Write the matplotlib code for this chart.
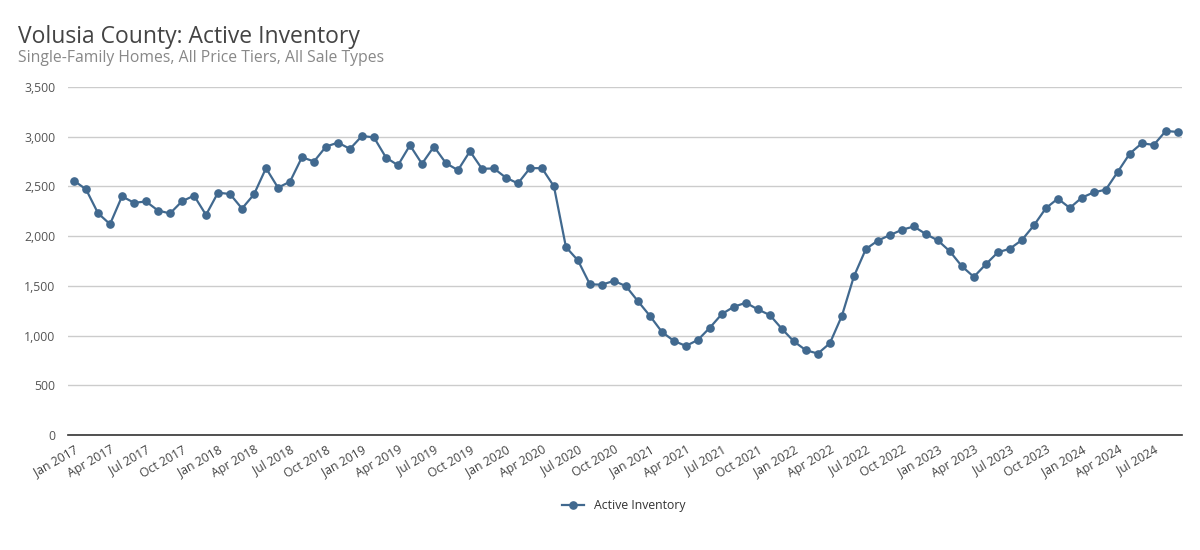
import numpy as np
import pandas as pd
from matplotlib import pyplot as plt

plt.rcParams['font.family'] = ['Open Sans', 'DejaVu Sans']

# monthly active inventory, Jan 2017 - Sep 2024
months = pd.date_range('2017-01-01', '2024-09-01', freq='MS')
inventory = [
    2557, 2470, 2230, 2120, 2400, 2335, 2348, 2257, 2228, 2350, 2407, 2213,  # 2017
    2437, 2423, 2277, 2420, 2683, 2487, 2547, 2793, 2750, 2900, 2940, 2877,  # 2018
    3007, 2992, 2790, 2712, 2913, 2727, 2900, 2733, 2663, 2853, 2677, 2680,  # 2019
    2587, 2530, 2683, 2683, 2500, 1890, 1756, 1515, 1512, 1550, 1497, 1346,  # 2020
    1198, 1037, 946, 896, 956, 1080, 1217, 1290, 1330, 1263, 1206, 1068,     # 2021
    941, 853, 819, 923, 1198, 1594, 1870, 1955, 2010, 2063, 2097, 2020,      # 2022
    1957, 1847, 1697, 1590, 1717, 1837, 1873, 1960, 2107, 2280, 2377, 2283,  # 2023
    2387, 2440, 2467, 2647, 2830, 2933, 2917, 3057, 3047,                    # 2024
]
series_name = 'Active Inventory'
title = 'Volusia County: Active Inventory'
subtitle = 'Single-Family Homes, All Price Tiers, All Sale Types'
y_ticks = [0, 500, 1000, 1500, 2000, 2500, 3000, 3500]

color = '#41698f'

fig = plt.figure(figsize=(12, 5.5), dpi=100)
ax = fig.add_axes([0.0567, 0.209, 0.9283, 0.633])

x = np.arange(len(months))
ax.plot(x, inventory, color=color, linewidth=1.6, marker='o', markersize=5.2,
        label=series_name, zorder=3)

ax.set_ylim(0, 3500)
ax.set_yticks(y_ticks)
ax.set_yticklabels(['{:,}'.format(v) for v in y_ticks])
ax.set_xlim(-0.5, 92.35)
tick_idx = x[::3]
ax.set_xticks(tick_idx)
ax.set_xticklabels([months[i].strftime('%b %Y') for i in tick_idx],
                   rotation=30, ha='right', rotation_mode='anchor')

ax.grid(axis='y', color='#cccccc', linewidth=1)
ax.set_axisbelow(True)
for side in ['top', 'right', 'left']:
    ax.spines[side].set_visible(False)
ax.spines['bottom'].set_color('#333333')
ax.spines['bottom'].set_linewidth(1.2)
ax.tick_params(axis='y', length=0, pad=9, labelsize=8.8, labelcolor='#555555')
ax.tick_params(axis='x', length=0, pad=6, labelsize=8.8, labelcolor='#444444')

fig.text(0.015, 0.922, title, fontsize=16.5, color='#444444')
fig.text(0.015, 0.888, subtitle, fontsize=11.3, color='#888888')

fig.legend(loc='center', bbox_to_anchor=(0.52, 0.08), frameon=False,
           fontsize=8.8, handlelength=1.8, labelcolor='#333333')

fig.savefig('out.png', dpi=100)
